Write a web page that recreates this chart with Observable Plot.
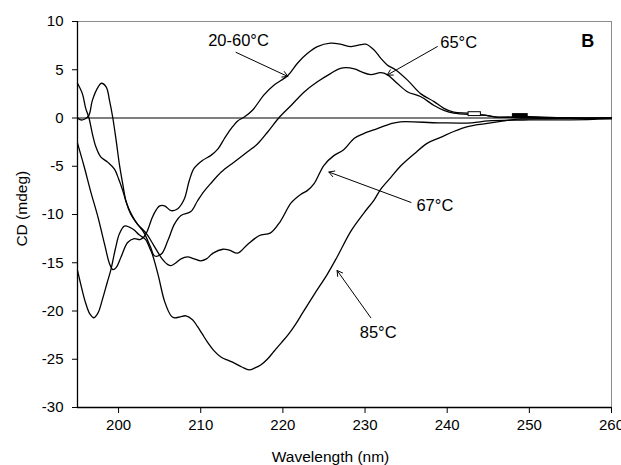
<!DOCTYPE html>
<html><head><meta charset="utf-8">
<script src="https://cdn.jsdelivr.net/npm/d3@7"></script>
<script src="https://cdn.jsdelivr.net/npm/@observablehq/plot@0.6"></script>
<style>body{margin:0;background:#fff}#chart svg{display:block}</style>
</head><body><div id="chart"></div>
<script>
// 20-60°C
const a_wl = [195,195.8,196.6,197.5,198.3,198.9,199.3,199.7,200.3,201.1,201.9,202.6,203.1,203.5,204.1,204.6,205.0,205.6,206.4,207.2,208.0,208.6,209.2,210.2,211.2,212.1,212.9,213.7,214.5,215.3,216.3,217.7,218.9,220.6,221.8,223.0,224.2,225.8,227.0,228.3,229.5,230.1,231.1,231.9,232.7,233.7,235.2,236.8,238.4,239.6,240.8,242.5,244.5,246,250,255,260];
const a_cd = [-2.6,-5.0,-7.6,-10.3,-13.1,-15.1,-15.7,-15.5,-14.4,-12.9,-12.5,-12.6,-12.3,-11.7,-10.3,-9.5,-9.1,-9.1,-9.6,-9.4,-8.4,-6.5,-5.2,-4.4,-3.9,-3.2,-2.1,-1.1,-0.3,0.1,0.8,2.4,3.4,4.4,5.7,6.7,7.4,7.75,7.65,7.4,7.6,7.65,7.05,6.2,5.5,5.0,3.9,2.5,1.7,1.0,0.6,0.5,0.3,0.1,0.05,0.0,0.0];
// 65°C
const b_wl = [195,195.4,195.9,196.4,196.8,197.5,197.9,198.5,198.9,199.3,199.7,200.1,200.5,200.9,201.5,202.3,203.1,203.9,204.4,205.2,206.0,206.8,207.6,208.8,209.6,210.4,211.2,212.5,214,215.7,216.9,218.1,219.5,221,222.6,224.2,225.8,227,228.7,229.5,230.7,231.9,232.7,233.9,235.2,236.8,238.4,239.6,240.8,243.3,244.5,246,250,255,260];
const b_cd = [0.0,-0.2,-0.1,0.3,1.8,3.2,3.6,3.2,1.8,0.0,-2.3,-4.8,-6.8,-8.6,-10.0,-11.0,-11.9,-13.4,-14.3,-14.1,-12.7,-11.0,-10.1,-9.7,-8.6,-7.6,-6.8,-5.6,-4.6,-3.5,-2.7,-1.5,0.0,1.3,2.7,3.75,4.6,5.15,5.1,4.8,4.5,4.7,4.5,3.6,2.7,2.2,1.3,0.8,0.5,0.35,0.3,0.1,0.15,0.0,0.0];
// 67°C
const c_wl = [195,195.6,196.0,196.4,196.8,197.2,197.8,198.7,199.5,200.0,200.5,201.0,201.7,202.3,203.0,203.5,204.0,204.7,205.3,206.0,206.4,207.0,207.6,208.4,209.2,210.0,210.7,211.5,212.7,213.5,214.5,215.7,217.1,218.5,219.7,221.0,222.2,223.0,223.8,225.0,226.2,227.4,228.7,229.9,231.5,233.1,234.3,239,243,245,250,255,260];
const c_cd = [3.6,2.5,1.0,0,-1.6,-2.9,-4.0,-4.6,-5.3,-6.3,-7.5,-8.9,-10.2,-11.0,-11.6,-12.1,-12.8,-13.8,-14.6,-15.2,-15.3,-15.0,-14.6,-14.4,-14.6,-14.8,-14.6,-14.0,-13.6,-13.7,-14.0,-13.1,-12.2,-11.9,-10.7,-8.8,-7.9,-7.5,-6.8,-4.9,-3.9,-3.3,-2.1,-1.6,-1.1,-0.6,-0.4,-0.5,-0.5,-0.3,-0.2,-0.2,-0.1];
// 85°C
const d_wl = [195,195.5,196.0,196.5,197.0,197.5,198.0,198.6,199.1,199.6,200.1,200.7,201.3,201.9,202.5,203.3,203.8,204.1,204.8,205.6,206.4,206.8,207.5,208.2,209.0,209.6,210.2,210.8,211.6,212.5,213.3,214.1,215.0,215.9,216.6,217.3,218.1,218.9,219.8,220.6,221.6,222.4,223.8,225.4,226.6,228.3,229.9,231.1,231.9,233.1,234.3,236.0,237.6,239.2,240.8,242.5,244.5,246.5,249,252,260];
const d_cd = [-15.8,-17.6,-19.2,-20.3,-20.7,-20.2,-18.9,-17.1,-15.6,-13.6,-12.0,-11.2,-11.3,-11.6,-12.1,-12.6,-13.5,-14.1,-16.2,-19.0,-20.5,-20.7,-20.6,-20.5,-20.9,-21.6,-22.4,-23.2,-24.1,-24.8,-25.1,-25.4,-25.8,-26.1,-25.9,-25.6,-25.0,-24.2,-23.3,-22.5,-21.3,-20.2,-18.3,-16.2,-14.4,-11.7,-9.8,-8.5,-7.4,-6.2,-5.0,-3.7,-2.6,-2.0,-1.4,-0.9,-0.6,-0.35,-0.1,-0.05,0.0];

const seriesNames = ["20-60°C","65°C","67°C","85°C"];
const xTicks = [200,210,220,230,240,250,260];
const yTicks = [-30,-25,-20,-15,-10,-5,0,5,10];
const xTitle = "Wavelength (nm)";
const yTitle = "CD (mdeg)";

// annotation labels and arrows
const labelText = ["20-60°C","65°C","67°C","85°C"];
const labelWl = [214.6,241.4,238.5,231.6];
const labelCd = [8.04,7.83,-9.1,-22.3];
const arrowWl1 = [214.3,238.8,235.6,230.7];
const arrowCd1 = [6.8,7.4,-8.75,-20.7];
const arrowWl2 = [220.6,232.7,225.6,226.6];
const arrowCd2 = [4.3,4.45,-5.6,-15.8];
const panelLetter = ["B"];
// small boxes on the tails near zero
const boxWl1 = [242.6,248.0], boxWl2 = [244.1,249.8];
const boxCd1 = [0.2,0.1], boxCd2 = [0.6,0.4];

const wls = [a_wl,b_wl,c_wl,d_wl], cds = [a_cd,b_cd,c_cd,d_cd];
const rows = seriesNames.flatMap((s,k) => wls[k].map((w,i) => ({series:s, wl:w, cd:cds[k][i]})));
const labels = labelText.map((t,i) => ({t, x:labelWl[i], y:labelCd[i]}));
const arrows = labelText.map((t,i) => ({x1:arrowWl1[i], y1:arrowCd1[i], x2:arrowWl2[i], y2:arrowCd2[i]}));
const boxes = boxWl1.map((w,i) => ({x1:w, x2:boxWl2[i], y1:boxCd1[i], y2:boxCd2[i], f: i === 1}));

const fmt = d => String(d);
const FONT = "Liberation Sans, Arial, sans-serif";
const chart = Plot.plot({
  width: 621, height: 465,
  marginLeft: 77, marginRight: 10, marginTop: 21, marginBottom: 58,
  style: {fontFamily: FONT, fontSize: "15px", background: "#fff", color: "#000", overflow: "visible"},
  x: {domain: [195,260]},
  y: {domain: [-30,10]},
  marks: [
    Plot.ruleY([10], {stroke: "#8c8c8c"}),
    Plot.ruleX([260], {stroke: "#8c8c8c"}),
    Plot.ruleY([0], {stroke: "#000", strokeWidth: 1.2}),
    Plot.line(rows, {x: "wl", y: "cd", z: "series", stroke: "#000", strokeWidth: 1.3, curve: "catmull-rom"}),
    Plot.rect(boxes, {x1: "x1", x2: "x2", y1: "y1", y2: "y2", stroke: "#000", strokeWidth: 1, fill: d => d.f ? "#000" : "#fff"}),
    Plot.arrow(arrows, {x1: "x1", y1: "y1", x2: "x2", y2: "y2", stroke: "#000", strokeWidth: 1, headLength: 9}),
    Plot.text(labels, {x: "x", y: "y", text: "t", fontSize: 16.5, fill: "#000"}),
    Plot.text(panelLetter, {x: () => 257.1, y: () => 7.94, text: d => d, fontSize: 18, fontWeight: "bold"}),
    Plot.axisX({ticks: xTicks, tickFormat: fmt, tickSize: 6, tickPadding: 6, label: null, fontSize: 15}),
    Plot.axisY({ticks: yTicks, tickFormat: fmt, tickSize: 5, tickPadding: 9, label: null, fontSize: 15}),
    Plot.text([xTitle], {x: () => 225.8, y: () => -35.1, text: d => d, fontSize: 15.5, fill: "#000"}),
    Plot.text([yTitle], {x: () => 188.25, y: () => -9.4, text: d => d, fontSize: 15.5, rotate: -90, fill: "#000"}),
    Plot.ruleY([-30], {stroke: "#000", strokeWidth: 1.3}),
    Plot.ruleX([195], {stroke: "#000", strokeWidth: 1.3})
  ]
});
document.getElementById("chart").appendChild(chart);
</script>
</body></html>
